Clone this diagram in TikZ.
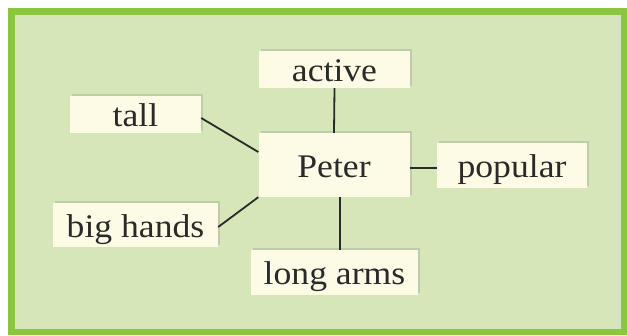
\documentclass[tikz,border=0pt]{standalone}
\usepackage{fontspec}
\setmainfont{Liberation Serif}[FakeStretch=1.08]
\usetikzlibrary{calc,shadows}
\definecolor{bggreen}{HTML}{D5E6B9}
\definecolor{bordergreen}{HTML}{8CC63F}
\definecolor{boxcream}{HTML}{FDFBE6}
\definecolor{inkdark}{HTML}{2A2A2A}
\tikzset{
  word/.style={fill=boxcream, inner sep=0pt, text=inkdark,
    text height=24pt, text depth=0pt,
    font=\fontsize{33}{36}\selectfont,
    drop shadow={shadow xshift=2pt, shadow yshift=2pt, opacity=0.2, fill=black!60}},
  link/.style={draw=inkdark, line width=1.8pt}
}
\begin{document}
\begin{tikzpicture}[x=1pt,y=-1pt]
\useasboundingbox (0,0) rectangle (627,335);
\fill[white] (0,0) rectangle (627,335);
\draw[fill=bggreen, draw=bordergreen, line width=6.5pt] (11.25,11.25) rectangle (624,332);
\node[word, minimum width=151pt, minimum height=37pt] (active) at (334.5,69.5) {active};
\node[word, minimum width=131pt, minimum height=37pt] (tall) at (135.5,114.5) {tall};
\node[word, minimum width=151pt, minimum height=64pt] (peter) at (334,165) {Peter};
\node[word, minimum width=150pt, minimum height=45pt] (popular) at (512,165.5) {popular};
\node[word, minimum width=165pt, minimum height=44pt] (bighands) at (135.5,225) {big hands};
\node[word, minimum width=167pt, minimum height=45pt] (longarms) at (334.5,272.5) {long arms};
\draw[link] (active.south) -- (peter.north);
\draw[link] ($(tall.east)+(0,3.5)$) -- ($(peter.west)+(0,-13)$);
\draw[link] ($(bighands.east)+(0,2)$) -- (peter.south west);
\draw[link] ($(peter.east)+(0,3)$) coordinate (pe) -- (popular.west |- pe);
\draw[link] ($(peter.south)+(6,0)$) coordinate (ps) -- (ps |- longarms.north);
\end{tikzpicture}
\end{document}
